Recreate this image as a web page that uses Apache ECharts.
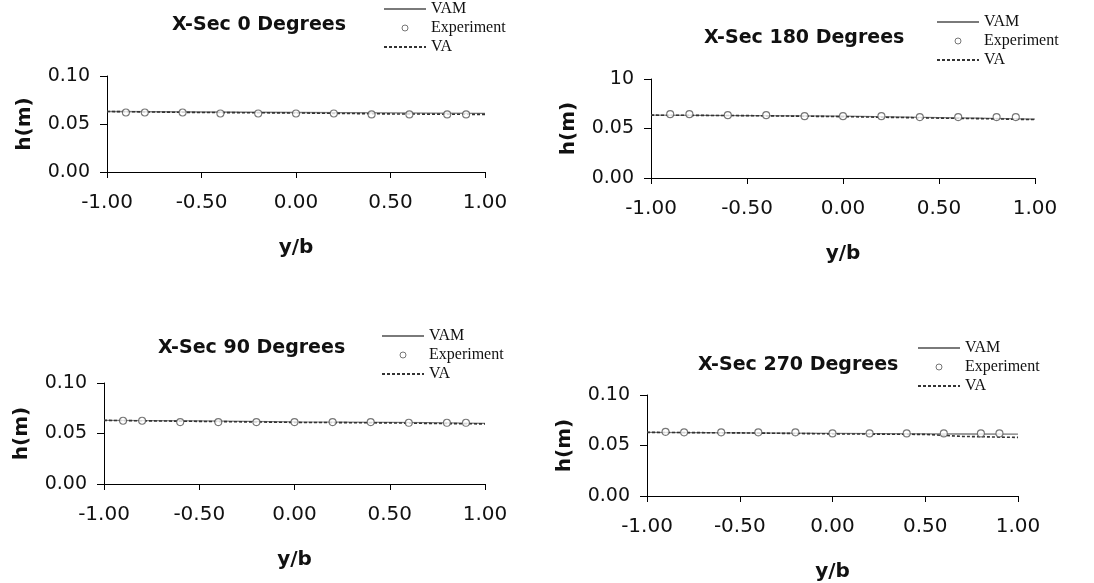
<!DOCTYPE html>
<html>
<head>
<meta charset="utf-8">
<script src="https://cdn.jsdelivr.net/npm/echarts@6/dist/echarts.min.js"></script>
<style>
  html, body { margin: 0; padding: 0; background: #fff; }
  #main { width: 1094px; height: 583px; }
</style>
</head>
<body>
<div id="main"></div>
<script>
// y/b positions of the measured points
const expX = [-0.9, -0.8, -0.6, -0.4, -0.2, 0.0, 0.2, 0.4, 0.6, 0.8, 0.9];
// y/b positions for the computed curves
const lineX = [-1.0, -0.5, 0.0, 0.5, 0.7, 1.0];
const xTicks = [-1.0, -0.5, 0.0, 0.5, 1.0];
const yTicks = [0.0, 0.05, 0.10];

// X-Sec 0 Degrees
const exp0 = [0.062, 0.062, 0.062, 0.061, 0.061, 0.061, 0.061, 0.060, 0.060, 0.060, 0.060];
const vam0 = [0.063, 0.0625, 0.062, 0.0615, 0.0613, 0.061];
const va0 = [0.063, 0.062, 0.0615, 0.0605, 0.0603, 0.060];

// X-Sec 180 Degrees
const exp180 = [0.0645, 0.0645, 0.0635, 0.0635, 0.0625, 0.0625, 0.0625, 0.0615, 0.0615, 0.0615, 0.0615];
const vam180 = [0.0635, 0.063, 0.0625, 0.061, 0.0605, 0.0595];
const va180 = [0.0635, 0.063, 0.062, 0.0605, 0.060, 0.059];

// X-Sec 90 Degrees
const exp90 = [0.0626, 0.0626, 0.0613, 0.0613, 0.0613, 0.0613, 0.0613, 0.0613, 0.0606, 0.0606, 0.0606];
const vam90 = [0.063, 0.0625, 0.0615, 0.061, 0.0607, 0.060];
const va90 = [0.063, 0.062, 0.061, 0.0605, 0.060, 0.0595];

// X-Sec 270 Degrees
const exp270 = [0.0635, 0.063, 0.063, 0.063, 0.063, 0.062, 0.062, 0.062, 0.062, 0.062, 0.062];
const vam270 = [0.063, 0.0625, 0.062, 0.0615, 0.0614, 0.0612];
const va270 = [0.063, 0.0625, 0.0615, 0.061, 0.059, 0.058];

const panels = [
  { title: 'X-Sec 0 Degrees', exp: exp0, vam: vam0, va: va0,
    grid: { left: 107, top: 76, width: 378, height: 96 }, titlePos: [172, 16], legendPos: [383, 1] },
  { title: 'X-Sec 180 Degrees', exp: exp180, vam: vam180, va: va180, topLabel: '10',
    grid: { left: 651, top: 79, width: 384, height: 99 }, titlePos: [704, 29], legendPos: [936, 14] },
  { title: 'X-Sec 90 Degrees', exp: exp90, vam: vam90, va: va90,
    grid: { left: 104, top: 383, width: 381, height: 101 }, titlePos: [158, 339], legendPos: [381, 328] },
  { title: 'X-Sec 270 Degrees', exp: exp270, vam: vam270, va: va270,
    grid: { left: 647, top: 395, width: 371, height: 107 }, titlePos: [698, 356], legendPos: [917, 340] }
];

function pairs(xs, ys) {
  return xs.map(function (x, i) { return [x, ys[i]]; });
}

const chart = echarts.init(document.getElementById('main'), null, { renderer: 'canvas' });

var title = [], grid = [], xAxis = [], yAxis = [], legend = [], series = [];

panels.forEach(function (p, i) {
  title.push({
    text: p.title,
    left: p.titlePos[0],
    top: p.titlePos[1],
    padding: 0,
    textStyle: { fontFamily: 'DejaVu Sans', fontWeight: 'bold', fontSize: 19, color: '#111' }
  });
  grid.push(p.grid);
  xAxis.push({
    gridIndex: i,
    type: 'value',
    min: xTicks[0],
    max: xTicks[xTicks.length - 1],
    interval: 0.5,
    name: 'y/b',
    nameLocation: 'middle',
    nameGap: 66,
    nameTextStyle: { fontFamily: 'DejaVu Sans', fontWeight: 'bold', fontSize: 20, color: '#111' },
    axisLine: { onZero: false, lineStyle: { color: '#000', width: 1 } },
    axisTick: { inside: false, length: 6, lineStyle: { color: '#000' } },
    axisLabel: {
      margin: 21,
      fontFamily: 'DejaVu Sans', fontSize: 20, color: '#111',
      formatter: function (v) { return v.toFixed(2); }
    },
    splitLine: { show: false }
  });
  yAxis.push({
    gridIndex: i,
    type: 'value',
    min: yTicks[0],
    max: yTicks[yTicks.length - 1],
    interval: 0.05,
    name: 'h(m)',
    nameLocation: 'middle',
    nameGap: 72,
    nameRotate: 90,
    nameTextStyle: { fontFamily: 'DejaVu Sans', fontWeight: 'bold', fontSize: 20, color: '#111' },
    axisLine: { show: true, onZero: false, lineStyle: { color: '#000', width: 1 } },
    axisTick: { show: true, inside: false, length: 7, lineStyle: { color: '#000' } },
    axisLabel: {
      margin: 17,
      fontFamily: 'DejaVu Sans', fontSize: 19, color: '#111',
      formatter: function (v) {
        if (p.topLabel && Math.abs(v - 0.1) < 1e-9) return p.topLabel;
        return v.toFixed(2);
      }
    },
    splitLine: { show: false }
  });
  legend.push({
    left: p.legendPos[0],
    top: p.legendPos[1],
    orient: 'vertical',
    padding: 0,
    itemWidth: 42,
    itemHeight: 6,
    itemGap: 3,
    selectedMode: false,
    textStyle: { fontFamily: 'Liberation Serif', fontSize: 16, color: '#111' },
    data: [
      { name: 'VAM', itemStyle: { color: 'transparent', borderWidth: 0 } },
      { name: 'Experiment', icon: 'circle', itemStyle: { color: '#fff', borderColor: '#555', borderWidth: 1 } },
      { name: 'VA', itemStyle: { color: 'transparent', borderWidth: 0 } }
    ]
  });
  series.push({
    name: 'VAM',
    type: 'line',
    xAxisIndex: i, yAxisIndex: i,
    data: pairs(lineX, p.vam),
    symbol: 'none',
    lineStyle: { color: '#7a7a7a', width: 1.3, type: 'solid' },
    itemStyle: { color: '#7a7a7a' },
    z: 2
  });
  series.push({
    name: 'VA',
    type: 'line',
    xAxisIndex: i, yAxisIndex: i,
    data: pairs(lineX, p.va),
    symbol: 'none',
    lineStyle: { color: '#333', width: 1.6, type: [3, 2] },
    itemStyle: { color: '#333' },
    z: 3
  });
  series.push({
    name: 'Experiment',
    type: 'scatter',
    xAxisIndex: i, yAxisIndex: i,
    data: pairs(expX, p.exp),
    symbol: 'circle',
    symbolSize: 7,
    itemStyle: { color: '#fff', borderColor: '#555', borderWidth: 1.1 },
    z: 4
  });
});

chart.setOption({
  backgroundColor: '#fff',
  animation: false,
  title: title,
  grid: grid,
  xAxis: xAxis,
  yAxis: yAxis,
  legend: legend,
  series: series
});
</script>
</body>
</html>
